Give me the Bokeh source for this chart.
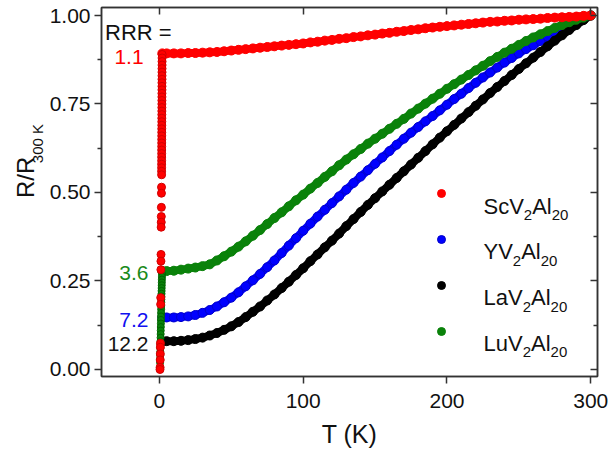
from math import pi
from bokeh.plotting import figure
from bokeh.layouts import row
from bokeh.models import (Range1d, FixedTicker, LinearAxis, Label, Legend,
                          LegendItem, PrintfTickFormatter)
from bokeh.embed import file_html
from bokeh.resources import INLINE

FONT = "Liberation Sans"

# ---------------- data ----------------
T_curve = [2, 5, 10, 15, 20, 25, 30, 35, 40, 45, 50, 55, 60, 65, 70, 75, 80, 85,
           90, 95, 100, 105, 110, 115, 120, 125, 130, 135, 140, 145, 150, 155,
           160, 165, 170, 175, 180, 185, 190, 195, 200, 205, 210, 215, 220, 225,
           230, 235, 240, 245, 250, 255, 260, 265, 270, 275, 280, 285, 290, 295, 300]

sc_R = [0.893, 0.893, 0.893, 0.893, 0.894, 0.894, 0.895, 0.896, 0.897, 0.899,
        0.901, 0.903, 0.905, 0.907, 0.909, 0.911, 0.913, 0.915, 0.917, 0.919,
        0.921, 0.924, 0.926, 0.929, 0.931, 0.934, 0.936, 0.939, 0.941, 0.944,
        0.946, 0.949, 0.951, 0.954, 0.956, 0.959, 0.961, 0.964, 0.966, 0.968,
        0.970, 0.972, 0.974, 0.976, 0.978, 0.980, 0.982, 0.983, 0.985, 0.986,
        0.988, 0.989, 0.990, 0.991, 0.993, 0.994, 0.995, 0.996, 0.997, 0.999, 1.000]

y_R = [0.147, 0.147, 0.147, 0.148, 0.150, 0.154, 0.160, 0.168, 0.178, 0.190,
       0.203, 0.218, 0.235, 0.252, 0.270, 0.289, 0.308, 0.329, 0.350, 0.371,
       0.392, 0.412, 0.432, 0.451, 0.470, 0.489, 0.508, 0.527, 0.545, 0.563,
       0.581, 0.599, 0.617, 0.635, 0.652, 0.669, 0.685, 0.701, 0.716, 0.732,
       0.748, 0.764, 0.779, 0.795, 0.810, 0.825, 0.839, 0.853, 0.867, 0.880,
       0.893, 0.905, 0.916, 0.928, 0.940, 0.951, 0.962, 0.972, 0.982, 0.991, 1.000]

la_R = [0.080, 0.080, 0.080, 0.081, 0.083, 0.086, 0.090, 0.096, 0.103, 0.112,
        0.122, 0.134, 0.148, 0.163, 0.178, 0.195, 0.212, 0.230, 0.248, 0.267,
        0.286, 0.306, 0.325, 0.345, 0.364, 0.384, 0.405, 0.425, 0.445, 0.465,
        0.484, 0.503, 0.522, 0.541, 0.560, 0.579, 0.598, 0.617, 0.636, 0.655,
        0.673, 0.691, 0.709, 0.727, 0.745, 0.763, 0.781, 0.798, 0.815, 0.832,
        0.849, 0.865, 0.881, 0.897, 0.913, 0.929, 0.944, 0.959, 0.973, 0.987, 1.000]

lu_R = [0.278, 0.278, 0.279, 0.282, 0.285, 0.288, 0.292, 0.297, 0.308, 0.320,
        0.333, 0.347, 0.362, 0.378, 0.394, 0.411, 0.428, 0.444, 0.461, 0.478,
        0.494, 0.511, 0.527, 0.544, 0.560, 0.577, 0.593, 0.608, 0.623, 0.638,
        0.652, 0.666, 0.680, 0.694, 0.708, 0.723, 0.737, 0.751, 0.765, 0.779,
        0.793, 0.806, 0.819, 0.832, 0.845, 0.858, 0.871, 0.883, 0.895, 0.906,
        0.917, 0.928, 0.938, 0.947, 0.956, 0.965, 0.973, 0.981, 0.988, 0.994, 1.000]

# low-temperature (sub-2 K) points
sc_low_T = [1.85, 1.84, 1.83, 1.82, 1.81, 1.80, 1.79, 1.78, 1.77, 1.76, 1.75,
            1.74, 1.73, 1.72, 1.71, 1.70, 1.69, 1.68, 1.67, 1.66, 1.65, 1.64,
            1.63, 1.62, 1.61, 1.60, 1.59, 1.58, 1.57, 1.56, 1.55, 1.54, 1.53,
            1.52, 1.51, 1.45, 1.40, 1.35, 1.30, 1.25, 1.20, 1.10, 1.05, 1.00,
            0.90, 0.85, 0.70, 0.65, 0.60, 0.55, 0.45, 0.40]
sc_low_R = [0.890, 0.880, 0.870, 0.860, 0.850, 0.840, 0.830, 0.820, 0.810, 0.800,
            0.790, 0.780, 0.770, 0.760, 0.750, 0.740, 0.730, 0.720, 0.710, 0.700,
            0.690, 0.680, 0.670, 0.660, 0.650, 0.640, 0.630, 0.620, 0.610, 0.600,
            0.590, 0.580, 0.570, 0.560, 0.550, 0.515, 0.498, 0.458, 0.432, 0.416,
            0.402, 0.325, 0.306, 0.282, 0.203, 0.184, 0.074, 0.063, 0.044, 0.027,
            0.006, 0.000]

lu_low_T = [1.80, 1.75, 1.70, 1.65, 1.60, 1.55, 1.50, 1.45, 1.40, 1.35, 1.30,
            1.25, 1.20, 1.15, 1.10, 1.05, 1.00, 0.95, 0.90, 0.85, 0.80, 0.75,
            0.70, 0.65, 0.60, 0.55, 0.50, 0.45]
lu_low_R = [0.270, 0.262, 0.254, 0.246, 0.238, 0.230, 0.222, 0.214, 0.206, 0.198,
            0.190, 0.180, 0.170, 0.160, 0.150, 0.140, 0.130, 0.120, 0.110, 0.100,
            0.090, 0.080, 0.070, 0.060, 0.050, 0.040, 0.030, 0.020]

# legend names as (text, is_subscript) pieces
series_names = [
    [("ScV", False), ("2", True), ("Al", False), ("20", True)],
    [("YV", False), ("2", True), ("Al", False), ("20", True)],
    [("LaV", False), ("2", True), ("Al", False), ("20", True)],
    [("LuV", False), ("2", True), ("Al", False), ("20", True)],
]
rrr_values = ["1.1", "7.2", "12.2", "3.6"]
rrr_label_T = [-11, -7.6, -7.6, -7.6]
rrr_label_R = [0.882, 0.141, 0.073, 0.272]

x_ticks = [0, 100, 200, 300]
y_ticks = [0.0, 0.25, 0.5, 0.75, 1.0]
y_minor = [0.125, 0.375, 0.625, 0.875]

RED, RED_E = "#ff0000", "#ff0000"
BLUE, BLUE_E = "#0000ff", "#0000c8"
BLACK, BLACK_E = "#000000", "#000000"
GREEN, GREEN_E = "#0a820a", "#0a820a"
AX = "#333333"
TXT = "#111111"

# Arial / Liberation Sans advance widths (per 1000 em) for laying out text pieces
ADV = {"S": 667, "c": 500, "V": 667, "Y": 667, "L": 556, "a": 556, "u": 556,
       "A": 667, "l": 222, "0": 556, "2": 556}


def text_width(s, fs):
    return sum(ADV.get(ch, 556) for ch in s) * fs / 1000.0


W, H = 610, 455
LW_TITLE = 45                       # width of the strip holding the y title
FL, FR, FT, FB = 101, 597, 7, 376   # frame edges in page pixels
X0, X1 = -40.3, 304.7
Y0, Y1 = -0.0198, 1.0226

# ---------- strip with the rotated y-axis title ----------
pt = figure(width=LW_TITLE, height=H, x_range=Range1d(0, LW_TITLE),
            y_range=Range1d(0, H), output_backend="svg", toolbar_location=None,
            x_axis_location=None, y_axis_location=None, min_border=0)
pt.grid.visible = False
pt.outline_line_color = None
pt.background_fill_color = "white"
pt.border_fill_color = "white"
pt.add_layout(Label(x=25, y=H - 235, text="R/R", angle=pi / 2, text_font=FONT,
                    text_font_size="24px", text_color=TXT,
                    text_align="left", text_baseline="alphabetic"))
pt.add_layout(Label(x=37, y=H - 192, text="300 K", angle=pi / 2, text_font=FONT,
                    text_font_size="15px", text_color=TXT,
                    text_align="left", text_baseline="alphabetic"))

# ---------- main plot ----------
p = figure(width=W - LW_TITLE, height=H, x_range=Range1d(X0, X1),
           y_range=Range1d(Y0, Y1), output_backend="svg", toolbar_location=None,
           min_border_left=FL - LW_TITLE, min_border_right=W - FR,
           min_border_top=FT, min_border_bottom=H - FB)
p.grid.visible = False
p.outline_line_color = AX
p.outline_line_width = 1.5
p.background_fill_color = "white"
p.border_fill_color = "white"

xa = p.xaxis[0]
ya = p.yaxis[0]
xa.ticker = FixedTicker(ticks=x_ticks, minor_ticks=[])
ya.ticker = FixedTicker(ticks=y_ticks, minor_ticks=y_minor)
ya.formatter = PrintfTickFormatter(format="%.2f")
for ax in (xa, ya):
    ax.axis_line_color = AX
    ax.axis_line_width = 1.5
    ax.major_tick_line_color = AX
    ax.major_tick_line_width = 1.5
    ax.minor_tick_line_color = AX
    ax.minor_tick_line_width = 1.5
    ax.major_tick_in = 0
    ax.major_tick_out = 7
    ax.minor_tick_in = 0
    ax.minor_tick_out = 4
    ax.major_label_text_font = FONT
    ax.major_label_text_font_size = "21px"
    ax.major_label_text_color = TXT
ya.major_label_standoff = 4
xa.major_label_standoff = 10
xa.axis_label = "T (K)"
xa.axis_label_text_font = FONT
xa.axis_label_text_font_size = "25px"
xa.axis_label_text_font_style = "normal"
xa.axis_label_text_color = TXT
xa.axis_label_standoff = 9

top = LinearAxis(ticker=FixedTicker(ticks=x_ticks, minor_ticks=[]))
right = LinearAxis(ticker=FixedTicker(ticks=y_ticks, minor_ticks=y_minor))
for ax in (top, right):
    ax.major_label_text_font_size = "1px"
    ax.major_label_text_color = None
    ax.major_label_standoff = 0
    ax.axis_line_color = AX
    ax.axis_line_width = 1.5
    ax.major_tick_line_color = AX
    ax.major_tick_line_width = 1.5
    ax.minor_tick_line_color = AX
    ax.minor_tick_line_width = 1.5
    ax.major_tick_in = 7
    ax.major_tick_out = 0
    ax.minor_tick_in = 4
    ax.minor_tick_out = 0
p.add_layout(top, "above")
p.add_layout(right, "right")

MS = 9
LW = 8
# draw order: Y, La, Lu, Sc (Sc on top)
p.line(T_curve, y_R, line_color=BLUE, line_width=LW)
r_y = p.scatter(T_curve, y_R, size=MS, fill_color=BLUE, line_color=BLUE_E, line_width=1)
p.line(T_curve, la_R, line_color=BLACK, line_width=LW)
r_la = p.scatter(T_curve, la_R, size=MS, fill_color=BLACK, line_color=BLACK_E, line_width=1)
p.line(T_curve, lu_R, line_color=GREEN, line_width=LW)
r_lu = p.scatter(T_curve, lu_R, size=MS, fill_color=GREEN, line_color=GREEN_E, line_width=1)
p.scatter(lu_low_T, lu_low_R, size=7, fill_color=GREEN, line_color="#006400", line_width=1)
p.line(T_curve, sc_R, line_color=RED, line_width=LW)
r_sc = p.scatter(T_curve, sc_R, size=MS, fill_color=RED, line_color=RED_E, line_width=1)
p.scatter(sc_low_T, sc_low_R, size=8, fill_color=RED, line_color="#d00000", line_width=1)

# legend markers via Bokeh legend; label text drawn separately (with subscripts)
legend = Legend(items=[LegendItem(label=" ", renderers=[r_sc]),
                       LegendItem(label=" ", renderers=[r_y]),
                       LegendItem(label=" ", renderers=[r_la]),
                       LegendItem(label=" ", renderers=[r_lu])],
                location=(330, 33), orientation="vertical",
                glyph_width=20, glyph_height=20, label_height=24,
                label_standoff=32, spacing=22, padding=0, margin=0,
                border_line_color=None, background_fill_alpha=0,
                label_text_font=FONT, label_text_font_size="21px",
                label_text_color=None)
p.add_layout(legend)

# legend label texts (main text + subscripts)
px_per_T = (FR - FL) / (X1 - X0)
px_per_R = (FB - FT) / (Y1 - Y0)
leg_text_T = X0 + (483 - FL) / px_per_T
leg_rows_img_y = [205.5, 251.0, 297.0, 342.5]      # main-text baselines
MAIN_FS, SUB_FS = 22, 15
for pieces, by in zip(series_names, leg_rows_img_y):
    R_base = Y1 - (by - FT) / px_per_R
    off = 0.0
    for txt, sub in pieces:
        fs = SUB_FS if sub else MAIN_FS
        p.add_layout(Label(x=leg_text_T, y=R_base, x_offset=off,
                           y_offset=-9 if sub else 0, text=txt,
                           text_font=FONT, text_font_size=f"{fs}px",
                           text_color=TXT, text_align="left",
                           text_baseline="alphabetic"))
        off += text_width(txt, fs)

# RRR annotations
p.add_layout(Label(x=-37.8, y=0.952, text="RRR =", text_font=FONT,
                   text_font_size="22px", text_color=TXT,
                   text_baseline="alphabetic", text_align="left"))
rrr_colors = [RED, "#1010f0", TXT, "#1a8a1a"]
for v, tx, ry, c in zip(rrr_values, rrr_label_T, rrr_label_R, rrr_colors):
    p.add_layout(Label(x=tx, y=ry, text=v, text_font=FONT, text_font_size="21px",
                       text_color=c, text_align="right", text_baseline="middle"))

layout = row(pt, p, spacing=0)
open("out.html", "w").write(file_html(layout, INLINE))
